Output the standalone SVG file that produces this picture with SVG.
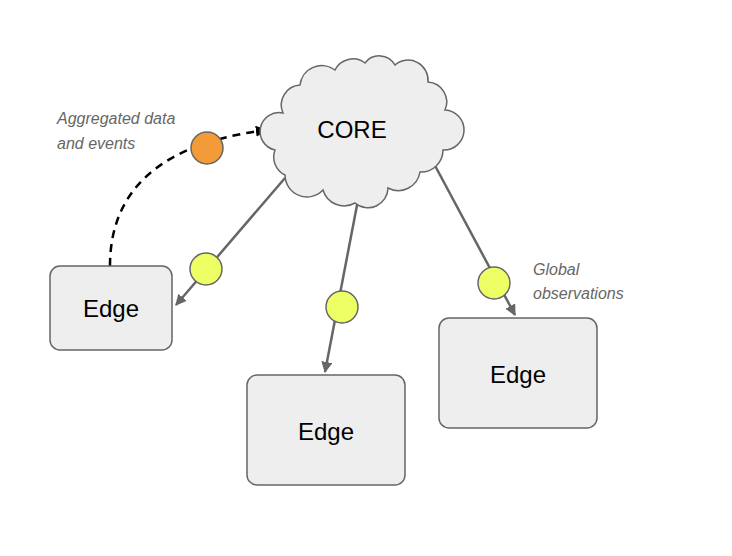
<svg xmlns="http://www.w3.org/2000/svg" width="732" height="556" viewBox="0 0 732 556">
<style>
.box{fill:#eeeeee;stroke:#666;stroke-width:1.5}
.lbl{font-family:"Liberation Sans",Arial,sans-serif;font-size:24px;fill:#000;text-anchor:middle}
.note{font-family:"Liberation Sans",Arial,sans-serif;font-size:16px;font-style:italic;fill:#666}
.con{stroke:#666;stroke-width:2.5;fill:none;marker-end:url(#ag)}
.dot{fill:#eeff66;stroke:#666;stroke-width:1.5}
</style>
<defs>
<marker id="ag" viewBox="0 0 10 10" refX="9" refY="5" markerWidth="4.5" markerHeight="4.5" orient="auto"><path d="M0,0L10,5L0,10z" fill="#666"/></marker>
<marker id="ab" viewBox="0 0 10 10" refX="9" refY="5" markerWidth="4.5" markerHeight="4.5" orient="auto"><path d="M0,0L10,5L0,10z" fill="#000"/></marker>
</defs>
<rect width="732" height="556" fill="#fff"/>
<g id="connectors">
<path class="con" d="M285,178L176,305"/>
<path class="con" d="M358,200L325,372"/>
<path class="con" d="M432,160L515,315"/>
<path d="M110,266Q110,150 266,130" stroke="#000" stroke-width="2.5" fill="none" stroke-dasharray="8,6" marker-end="url(#ab)"/>
<circle class="dot" cx="206" cy="269" r="16"/>
<circle class="dot" cx="342" cy="307" r="16"/>
<circle class="dot" cx="494" cy="283" r="16"/>
<circle cx="207" cy="148" r="16" fill="#f29b38" stroke="#666" stroke-width="1.5"/>
</g>
<g id="core">
<path class="box" d="M283,113A20,20 0 0 1 300,85A22,22 0 0 1 335,70A20,20 0 0 1 365,63A18,18 0 0 1 395,65A20,20 0 0 1 428,82A20,20 0 0 1 445,110A18,18 0 0 1 443,150A22,22 0 0 1 420,172A22,22 0 0 1 388,188A20,20 0 0 1 355,203A22,22 0 0 1 323,190A22,22 0 0 1 285,175A20,20 0 0 1 275,150A18,18 0 0 1 283,113Z"/>
<text class="lbl" x="352" y="138">CORE</text>
</g>
<g id="edge1"><rect class="box" x="50" y="266" width="122" height="84" rx="10"/><text class="lbl" x="111" y="317">Edge</text></g>
<g id="edge2"><rect class="box" x="247" y="375" width="158" height="110" rx="10"/><text class="lbl" x="326" y="440">Edge</text></g>
<g id="edge3"><rect class="box" x="439" y="318" width="158" height="110" rx="10"/><text class="lbl" x="518" y="383">Edge</text></g>
<g id="notes">
<text class="note" x="57" y="124">Aggregated data</text>
<text class="note" x="57" y="149">and events</text>
<text class="note" x="533" y="275">Global</text>
<text class="note" x="533" y="299">observations</text>
</g>
</svg>
